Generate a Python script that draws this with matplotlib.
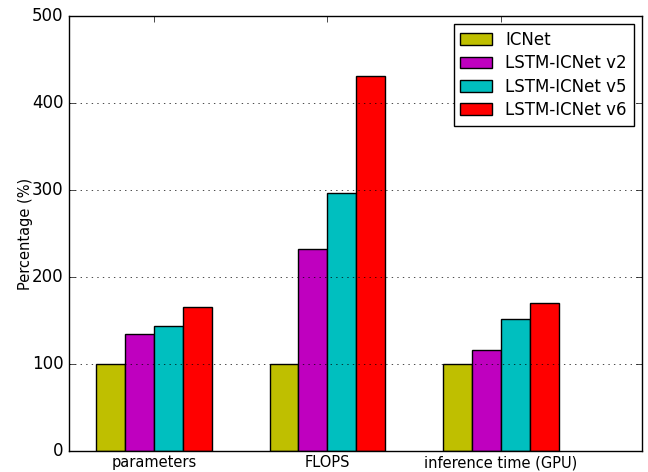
import numpy as np
import matplotlib
matplotlib.use('Agg')
import matplotlib.pyplot as plt

plt.style.use('classic')

categories = ['parameters', 'FLOPS', 'inference time (GPU)']
series_names = ['ICNet', 'LSTM-ICNet v2', 'LSTM-ICNet v5', 'LSTM-ICNet v6']
icnet = [100, 100, 100]
v2 = [135, 232, 116]
v5 = [144, 297, 152]
v6 = [166, 431, 170]
colors = ['y', 'm', 'c', 'r']

fig = plt.figure(figsize=(6.48, 4.72), dpi=100)
ax = fig.add_axes([0.1065, 0.0445, 0.8842, 0.9215])

ind = np.arange(len(categories))
width = 1.0 / 6
for k, (vals, name, col) in enumerate(zip([icnet, v2, v5, v6], series_names, colors)):
    ax.bar(ind + k * width, vals, width, color=col, label=name, align='edge')

ax.set_xticks(ind + 2 * width)
ax.set_xticklabels(categories, fontsize=10.5)
ax.tick_params(axis='x', pad=3)
ax.set_xlim(-0.156, 3.147)
ax.set_ylim(0, 500)
ax.set_ylabel('Percentage (%)', fontsize=10.5, labelpad=-1)
ax.yaxis.grid(True, linestyle=':', color='k')
ax.xaxis.grid(False)
ax.legend(loc='upper right', fontsize=12, handlelength=1.9, labelspacing=0.32)

fig.savefig('out.png', dpi=100)
